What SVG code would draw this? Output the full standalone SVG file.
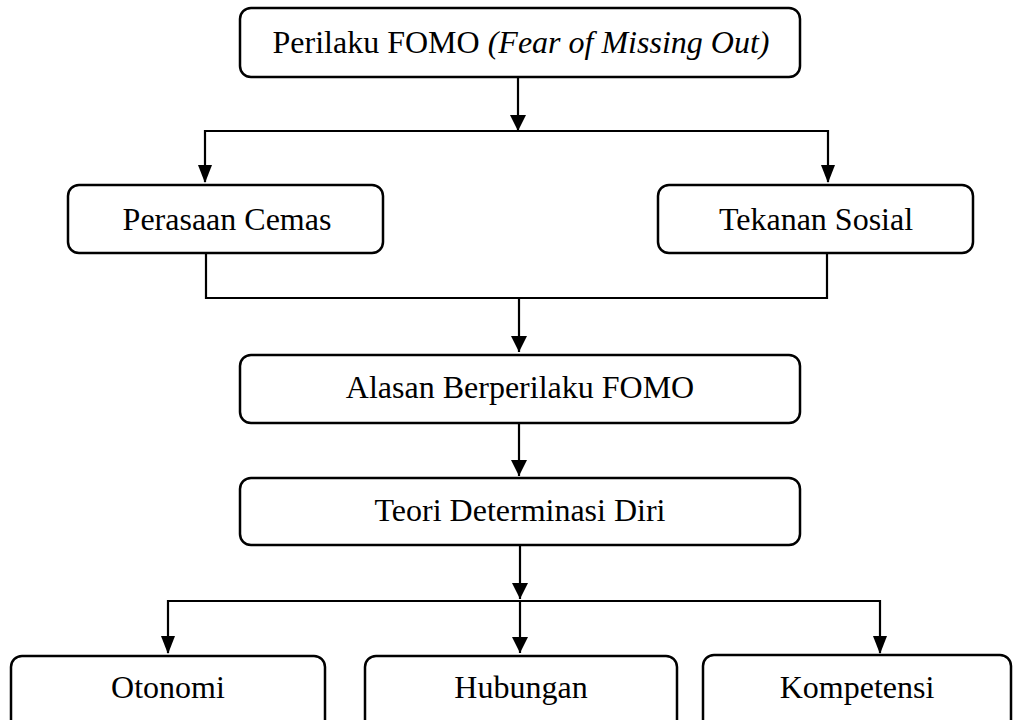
<svg xmlns="http://www.w3.org/2000/svg" width="1013" height="720" viewBox="0 0 1013 720">
<style>
.box{fill:#fff;stroke:#000;stroke-width:2.5}
.lbl{font-family:"Liberation Serif","Times New Roman",serif;font-size:32px;fill:#000;text-anchor:middle}
.con{fill:none;stroke:#000;stroke-width:2.2}
</style>
<defs>
<marker id="ah" markerUnits="userSpaceOnUse" markerWidth="16" markerHeight="18" refX="16" refY="8" orient="auto" viewBox="0 0 16 16">
<path d="M0,0 L16,8 L0,16 Z" fill="#000"/>
</marker>
</defs>
<rect width="1013" height="720" fill="#fff"/>
<g id="connectors">
<line class="con" x1="518" y1="77" x2="518" y2="131" marker-end="url(#ah)"/>
<polyline class="con" points="205,182 205,131 828,131 828,182"/>
<path d="M198,165 L212,165 L205,183 Z"/>
<path d="M821,165 L835,165 L828,183 Z"/>
<polyline class="con" points="206,253 206,298 827,298 827,253"/>
<line class="con" x1="519" y1="298" x2="519" y2="352" marker-end="url(#ah)"/>
<line class="con" x1="519" y1="423" x2="519" y2="476" marker-end="url(#ah)"/>
<line class="con" x1="520" y1="545" x2="520" y2="599" marker-end="url(#ah)"/>
<polyline class="con" points="168,653 168,601 880,601 880,653"/>
<line class="con" x1="520" y1="601" x2="520" y2="653" marker-end="url(#ah)"/>
<path d="M161,636 L175,636 L168,654 Z"/>
<path d="M873,636 L887,636 L880,654 Z"/>
</g>
<g id="node-fomo">
<rect class="box" x="240" y="8" width="560" height="69" rx="11"/>
<text class="lbl" x="521" y="53">Perilaku FOMO <tspan font-style="italic">(Fear of Missing Out)</tspan></text>
</g>
<g id="node-cemas">
<rect class="box" x="68" y="185" width="315" height="68" rx="11"/>
<text class="lbl" x="227" y="230">Perasaan Cemas</text>
</g>
<g id="node-sosial">
<rect class="box" x="658" y="185" width="315" height="68" rx="11"/>
<text class="lbl" x="816" y="230">Tekanan Sosial</text>
</g>
<g id="node-alasan">
<rect class="box" x="240" y="355" width="560" height="68" rx="11"/>
<text class="lbl" x="520" y="398">Alasan Berperilaku FOMO</text>
</g>
<g id="node-teori">
<rect class="box" x="240" y="478" width="560" height="67" rx="11"/>
<text class="lbl" x="520" y="521">Teori Determinasi Diri</text>
</g>
<g id="node-otonomi">
<rect class="box" x="11" y="656" width="314" height="90" rx="11"/>
<text class="lbl" x="168" y="698">Otonomi</text>
</g>
<g id="node-hubungan">
<rect class="box" x="365" y="656" width="312" height="90" rx="11"/>
<text class="lbl" x="521" y="698">Hubungan</text>
</g>
<g id="node-kompetensi">
<rect class="box" x="703" y="655" width="308" height="90" rx="11"/>
<text class="lbl" x="857" y="698">Kompetensi</text>
</g>
</svg>
